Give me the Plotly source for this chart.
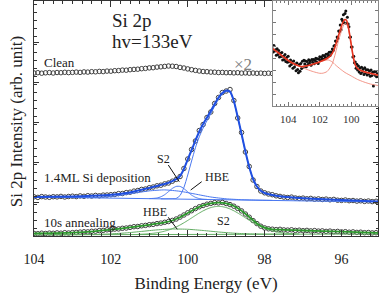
import plotly.graph_objects as go

FONT = "Liberation Serif"

# ---------------- main panel data (binding energy in eV, intensity in arb. units) ----------------
energy = [round(104.0 - 0.1 * i, 1) for i in range(91)]   # 104.0 ... 95.0

clean = [163.0, 163.3, 162.8, 163.2, 163.4, 163.0, 163.5, 163.3, 163.7, 163.4,
         163.6, 163.9, 163.6, 164.1, 163.9, 164.3, 164.2, 164.6, 164.4, 164.9,
         164.8, 165.3, 165.4, 165.9, 165.8, 166.3, 166.6, 166.8, 167.3, 167.6,
         168.1, 168.3, 168.9, 169.2, 169.6, 170.0, 169.8, 169.5, 168.6, 168.0,
         167.1, 166.3, 165.6, 165.0, 164.5, 164.3, 163.9, 163.8, 163.5, 163.6,
         163.3, 163.4, 163.1, 163.3, 162.9, 163.1, 162.8, 163.0, 162.7, 162.9,
         162.6, 162.8, 162.5, 162.7, 162.4, 162.6, 162.3, 162.6, 162.4, 162.5,
         162.2, 162.5, 162.3, 162.1, 162.4, 162.2, 162.0, 162.3, 162.1, 161.9,
         162.2, 162.0, 161.8, 162.1, 161.9, 162.0, 161.7, 162.0, 161.8, 161.9, 161.7]

dep_data = [39.2, 38.6, 39.4, 39.0, 38.7, 39.3, 39.1, 39.6, 39.0, 39.5,
            39.8, 39.4, 40.1, 39.7, 40.3, 40.0, 40.6, 40.2, 40.9, 41.0,
            41.3, 41.6, 42.4, 42.5, 43.4, 43.8, 44.9, 45.5, 46.6, 47.0,
            48.3, 49.0, 50.2, 50.8, 52.1, 53.0, 54.8, 56.6, 59.5, 67.5,
            77.0, 86.5, 95.0, 105.5, 111.5, 118.5, 124.0, 132.5, 138.5, 143.5,
            145.0, 146.5, 135.5, 118.0, 103.5, 84.0, 69.5, 56.0, 49.5, 45.0,
            43.2, 42.0, 41.3, 40.2, 39.6, 38.9, 38.5, 38.9, 38.0, 37.6,
            37.9, 37.2, 37.6, 36.8, 37.1, 36.5, 36.9, 36.2, 36.6, 35.8,
            35.6, 36.0, 35.3, 35.5, 34.9, 35.2, 34.6, 35.0, 34.4, 34.7, 34.2]

ann_data = [2.6, 2.3, 2.8, 2.5, 2.9, 2.7, 3.1, 2.8, 3.3, 3.0,
            3.4, 3.6, 3.9, 4.2, 4.1, 4.7, 4.8, 5.4, 5.6, 6.2,
            6.3, 6.9, 7.1, 7.7, 8.0, 8.6, 9.3, 9.5, 10.2, 10.6,
            11.3, 11.6, 12.4, 12.9, 13.7, 14.5, 15.6, 17.0, 18.9, 21.0,
            23.2, 25.3, 27.4, 29.2, 30.5, 31.8, 32.6, 33.4, 33.1, 33.6,
            32.5, 31.4, 29.8, 27.6, 25.1, 22.0, 18.8, 15.4, 12.4, 9.8,
            8.1, 7.2, 6.8, 6.4, 6.7, 6.1, 5.9, 6.2, 5.6, 5.8,
            5.3, 5.6, 5.1, 5.4, 4.9, 5.1, 4.6, 4.9, 4.3, 4.6,
            4.1, 4.3, 3.8, 4.1, 3.6, 3.8, 3.3, 3.5, 3.1, 3.3, 2.9]

# 1.4 ML Si deposition: fit and components
dep_fit_e = [104.0, 103.0, 102.5, 102.0, 101.6, 101.2, 100.8, 100.5, 100.3, 100.2,
             100.1, 100.0, 99.9, 99.8, 99.7, 99.6, 99.5, 99.4, 99.3, 99.2,
             99.1, 99.0, 98.9, 98.8, 98.7, 98.6, 98.5, 98.4, 98.3, 98.2,
             98.1, 98.0, 97.8, 97.5, 97.0, 96.0, 95.0]
dep_fit = [39.0, 39.5, 40.2, 41.2, 43.0, 46.3, 50.0, 53.2, 56.8, 60.0,
           67.0, 76.5, 86.0, 95.5, 104.5, 112.0, 118.5, 125.0, 132.0, 138.5,
           143.0, 145.5, 144.5, 135.0, 119.0, 102.0, 84.5, 69.0, 57.0, 49.5,
           45.2, 43.0, 41.0, 39.2, 37.8, 35.9, 34.4]
dep_base_e = [104.0, 95.0]
dep_base = [39.0, 34.0]
dep_hbe_e = [103.0, 102.6, 102.2, 101.8, 101.4, 101.0, 100.6, 100.2, 99.8, 99.4,
             99.0, 98.6, 98.2, 97.8]
dep_hbe = [38.5, 38.5, 39.0, 40.4, 42.8, 45.1, 46.1, 44.7, 41.9, 39.0,
           37.2, 36.3, 35.9, 35.6]
dep_s2_e = [round(101.0 - 0.1 * i, 1) for i in range(16)]
dep_s2 = [37.4, 37.6, 38.0, 39.2, 41.3, 44.4, 47.6, 49.6, 49.6, 47.4,
          44.1, 40.9, 38.7, 37.4, 36.8, 36.6]
dep_main_e = [100.7, 100.6, 100.5, 100.4, 100.3, 100.2, 100.1, 100.0, 99.9, 99.8,
              99.7, 99.6, 99.5, 99.4, 99.3, 99.2, 99.1, 99.0, 98.9, 98.8,
              98.7, 98.6, 98.5, 98.4, 98.3, 98.2, 98.1, 98.0, 97.9, 97.8,
              97.7, 97.6, 97.5, 97.3, 97.0, 96.5, 96.0, 95.5, 95.0]
dep_main = [37.2, 37.2, 37.3, 37.4, 37.6, 40.5, 48.5, 61.0, 75.0, 88.3,
            99.2, 107.9, 115.2, 122.4, 129.9, 136.8, 141.7, 144.5, 143.7, 134.4,
            118.6, 101.7, 84.3, 68.9, 56.9, 49.4, 45.1, 42.9, 41.9, 40.9,
            40.1, 39.5, 39.1, 38.4, 37.7, 36.8, 35.8, 35.0, 34.3]

# 10 s annealing: fit and components
ann_fit_e = [104.0, 103.0, 102.6, 102.2, 101.8, 101.4, 101.0, 100.6, 100.4, 100.2,
             100.0, 99.8, 99.6, 99.4, 99.2, 99.0, 98.8, 98.6, 98.4, 98.2,
             98.0, 97.8, 97.5, 97.0, 96.0, 95.0]
ann_fit = [2.6, 3.3, 4.2, 5.6, 7.2, 9.2, 11.2, 13.6, 15.5, 18.7,
           23.0, 27.2, 30.6, 32.7, 33.4, 32.7, 30.0, 25.3, 19.0, 12.6,
           8.3, 6.7, 6.2, 5.5, 4.3, 3.0]
ann_base_e = [104.0, 95.0]
ann_base = [1.2, 2.0]
ann_hbe_e = [103.6, 103.2, 102.8, 102.4, 102.0, 101.6, 101.2, 100.8, 100.4, 100.0,
             99.6, 99.2, 98.8, 98.4, 98.0, 97.6, 97.2]
ann_hbe = [1.24, 1.29, 1.38, 1.60, 2.12, 3.12, 4.59, 6.12, 6.98, 6.73,
           5.51, 4.01, 2.82, 2.15, 1.87, 1.81, 1.80]
ann_s2_e = [round(101.3 - 0.1 * i, 1) for i in range(43)]
ann_s2 = [1.70, 1.82, 2.02, 2.31, 2.70, 3.23, 3.94, 4.85, 6.00, 7.40,
          9.08, 11.02, 13.20, 15.56, 18.03, 20.54, 22.94, 25.13, 27.00, 28.42,
          29.32, 29.63, 29.34, 28.45, 27.05, 25.20, 23.03, 20.64, 18.15, 15.70,
          13.36, 11.20, 9.27, 7.61, 6.23, 5.10, 4.21, 3.52, 3.00, 2.63,
          2.36, 2.17, 2.05]

# ---------------- inset data ----------------
inset_e = [round(105.0 - 0.05 * i, 2) for i in range(135)]   # 105.00 ... 98.30
inset_data = [59.7, 54.1, 60.5, 54.9, 56.3, 50.8, 57.2, 51.6, 55.5, 48.9,
              52.8, 49.6, 53.5, 45.9, 49.8, 46.6, 51.5, 44.4, 48.4, 43.8,
              49.8, 44.2, 40.1, 46.1, 41.5, 44.1, 37.8, 44.9, 39.0, 42.1,
              35.3, 42.9, 36.5, 33.3, 41.5, 34.8, 42.5, 37.6, 44.7, 38.8,
              45.8, 41.9, 45.0, 39.2, 44.4, 41.6, 46.3, 42.9, 45.1, 40.8,
              46.5, 43.8, 46.5, 42.3, 45.5, 47.8, 44.0, 47.3, 42.5, 46.8,
              49.2, 45.5, 48.8, 47.2, 50.5, 46.8, 50.2, 48.5, 51.8, 48.2,
              52.0, 50.1, 53.8, 50.4, 54.0, 53.5, 57.0, 55.5, 60.0, 60.5,
              65.0, 64.5, 69.0, 67.5, 75.0, 74.5, 81.0, 76.3, 86.7, 85.0,
              91.2, 83.3, 92.5, 95.0, 82.5, 88.8, 82.0, 79.3, 68.7, 69.0,
              59.0, 59.0, 49.0, 49.7, 43.3, 44.0, 37.8, 41.7, 36.0, 40.0,
              34.0, 38.0, 32.5, 38.8, 34.0, 36.8, 31.5, 38.3, 33.0, 36.3,
              31.0, 36.3, 32.1, 34.9, 29.8, 36.1, 30.4, 33.7, 20.0, 34.3,
              30.7, 34.5, 29.3, 32.2, 29.5]
inset_fit_e = [105.0, 104.6, 104.2, 103.8, 103.4, 103.2, 102.9, 102.5, 102.1, 101.8,
               101.5, 101.3, 101.1, 100.9, 100.7, 100.55, 100.4, 100.3, 100.2, 100.05,
               99.9, 99.75, 99.6, 99.4, 99.0, 98.6, 98.3]
inset_fit = [57.7, 53.0, 48.0, 43.5, 40.5, 39.5, 40.0, 41.5, 43.5, 45.5,
             48.0, 50.5, 56.0, 66.0, 76.0, 83.0, 86.5, 85.5, 80.0, 66.0,
             51.0, 41.0, 37.5, 35.5, 33.5, 32.0, 31.0]
inset_b_e = [105.0, 104.5, 104.0, 103.5, 103.2, 102.8, 102.4, 102.0, 101.7, 101.45,
             101.2, 101.0, 100.7, 100.4, 100.0, 99.6, 99.2, 98.8, 98.3]
inset_b = [57.7, 51.0, 46.0, 41.5, 39.5, 40.0, 42.0, 44.0, 45.5, 46.0,
           44.0, 41.0, 37.0, 33.5, 30.0, 26.5, 24.0, 22.0, 20.5]
inset_a_e = [103.2, 102.8, 102.4, 102.0, 101.8, 101.55, 101.4, 101.2, 101.0, 100.8,
             100.6, 100.45, 100.35, 100.2, 100.05, 99.9, 99.75, 99.6, 99.4, 99.0,
             98.6, 98.3]
inset_a = [39.3, 36.5, 34.3, 32.7, 32.8, 34.3, 37.0, 42.5, 53.0, 66.0,
           76.0, 82.0, 82.5, 78.0, 66.0, 51.0, 41.0, 37.0, 35.0, 33.0,
           31.5, 30.5]

# ---------------- styling ----------------
DATA_C = "#404040"
BLUE = "#1f4fe0"
BLUE_T = "#4a78f0"
GREEN = "#2e9a2e"
GREEN_T = "#63ad63"
RED = "#e5341f"
RED_T = "#f08a7c"

fig = go.Figure()

def data_trace(x, y):
    return go.Scatter(x=x, y=y, mode="markers",
                      marker=dict(symbol="circle-open", size=4.5, color=DATA_C,
                                  line=dict(width=1, color=DATA_C)),
                      hoverinfo="skip")

def line_trace(x, y, color, width, xa="x", ya="y"):
    return go.Scatter(x=x, y=y, mode="lines", xaxis=xa, yaxis=ya,
                      line=dict(color=color, width=width, shape="spline", smoothing=0.6),
                      hoverinfo="skip")

# clean
fig.add_trace(data_trace(energy, clean))
# 1.4 ML
fig.add_trace(data_trace(energy, dep_data))
fig.add_trace(line_trace(dep_base_e, dep_base, BLUE_T, 1.0))
fig.add_trace(line_trace(dep_hbe_e, dep_hbe, BLUE_T, 1.0))
fig.add_trace(line_trace(dep_s2_e, dep_s2, BLUE_T, 1.0))
fig.add_trace(line_trace(dep_main_e, dep_main, BLUE_T, 1.0))
fig.add_trace(line_trace(dep_fit_e, dep_fit, BLUE, 2.0))
# 10 s annealing
fig.add_trace(data_trace(energy, ann_data))
fig.add_trace(line_trace(ann_base_e, ann_base, GREEN_T, 1.0))
fig.add_trace(line_trace(ann_hbe_e, ann_hbe, GREEN_T, 1.0))
fig.add_trace(line_trace(ann_s2_e, ann_s2, GREEN_T, 1.0))
fig.add_trace(line_trace(ann_fit_e, ann_fit, GREEN, 1.8))

# inset
fig.add_trace(go.Scatter(x=inset_e, y=inset_data, mode="markers", xaxis="x2", yaxis="y2",
                         marker=dict(symbol="circle", size=3, color="#111111"),
                         hoverinfo="skip"))
fig.add_trace(line_trace(inset_b_e, inset_b, RED_T, 0.9, "x2", "y2"))
fig.add_trace(line_trace(inset_a_e, inset_a, RED_T, 0.9, "x2", "y2"))
fig.add_trace(line_trace(inset_fit_e, inset_fit, RED, 1.6, "x2", "y2"))

AX = "#333333"
fig.update_layout(
    width=382, height=293,
    margin=dict(l=34, r=4, t=1, b=57, autoexpand=False),
    paper_bgcolor="white", plot_bgcolor="white",
    showlegend=False,
    font=dict(family=FONT, color="#222222"),
    xaxis=dict(domain=[0, 1], range=[104, 95.05], dtick=2, tick0=0,
               ticks="inside", ticklen=6, tickwidth=1, tickcolor=AX,
               minor=dict(dtick=0.25, ticklen=3, ticks="inside", tickcolor=AX),
               showline=True, linecolor=AX, linewidth=1, mirror="ticks",
               showgrid=False, zeroline=False, automargin=False,
               tickfont=dict(family=FONT, size=14, color="#222222"),
               ticklabelstandoff=10,
               title=dict(text="Binding Energy (eV)", font=dict(family=FONT, size=17),
                          standoff=19)),
    yaxis=dict(domain=[0, 1], range=[0, 235], tick0=34, dtick=40,
               showticklabels=False, ticks="inside", ticklen=5, tickcolor=AX,
               minor=dict(dtick=8, ticklen=2.5, ticks="inside", tickcolor=AX),
               showline=True, linecolor=AX, linewidth=1, mirror="ticks",
               showgrid=False, zeroline=False, automargin=False),
    xaxis2=dict(anchor="y2", domain=[0.6948, 1.0], range=[104.96, 98.31], dtick=2, tick0=0,
                ticks="inside", ticklen=4, tickcolor="#777777",
                minor=dict(dtick=0.25, ticklen=2, ticks="inside", tickcolor="#777777"),
                showline=True, linecolor="#888888", linewidth=1, mirror="ticks",
                showgrid=False, zeroline=False, automargin=False,
                tickfont=dict(family=FONT, size=11, color="#333333"),
                ticklabelstandoff=3),
    yaxis2=dict(anchor="x2", domain=[0.5532, 1.0], range=[0, 105], dtick=12,
                showticklabels=False, ticks="inside", ticklen=3, tickcolor="#777777",
                showline=True, linecolor="#888888", linewidth=1, mirror="ticks",
                showgrid=False, zeroline=False, automargin=False),
)

# y-axis title (rotated text left of the frame)
fig.add_annotation(x=-0.052, y=0.485, xref="paper", yref="paper",
                   text="Si 2p Intensity (arb. unit)", textangle=-90, showarrow=False,
                   xanchor="center", yanchor="middle",
                   font=dict(family=FONT, size=17, color="#222222"))

def label(x, y, text, size, color="#222222", xanchor="left"):
    fig.add_annotation(x=x, y=y, xref="x", yref="y", text=text, showarrow=False,
                       xanchor=xanchor, yanchor="middle",
                       font=dict(family=FONT, size=size, color=color))

label(102.02, 216, "Si 2p", 19)
label(102.02, 195, "hv=133eV", 19)
label(103.79, 174, "Clean", 13)
label(103.79, 59, "1.4ML Si deposition", 13)
label(103.79, 14, "10s annealing", 13)
label(100.62, 77, "S2", 12, xanchor="center")
label(99.25, 59, "HBE", 12, xanchor="center")
label(100.85, 24, "HBE", 12, xanchor="center")
label(99.07, 15, "S2", 12, xanchor="center")
label(98.56, 172, "×2", 17, color="#808080", xanchor="center")

for (x0, y0, x1, y1) in [(100.506, 71, 100.22, 54.3),
                         (99.637, 54.3, 99.923, 46),
                         (100.506, 18.7, 100.272, 6.7)]:
    fig.add_shape(type="line", xref="x", yref="y", x0=x0, y0=y0, x1=x1, y1=y1,
                  line=dict(color="#111111", width=1))

fig.write_html("out.html",
               config={"displayModeBar": False, "staticPlot": True},
               post_script="document.body.style.margin='0';document.body.style.overflow='hidden';")
